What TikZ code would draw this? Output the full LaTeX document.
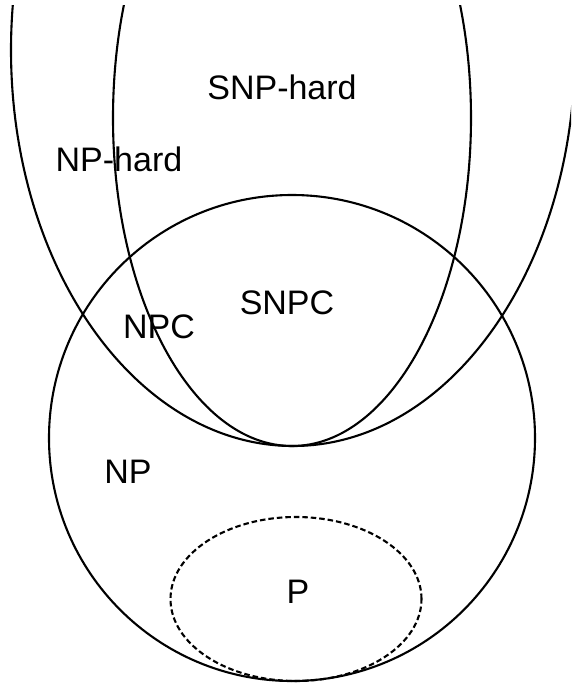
\documentclass[tikz,border=0pt]{standalone}
\usepackage{fontspec}
\setmainfont{Liberation Sans}
\begin{document}
\begin{tikzpicture}[x=1pt,y=-1pt,
  setline/.style={line width=2.1pt},
  pline/.style={line width=2.1pt,dash pattern=on 5.5pt off 3pt},
  lbl/.style={font=\fontsize{34}{34}\selectfont,inner sep=0pt,text height=24.5pt,text depth=0pt}]
\useasboundingbox[fill=white] (0,0) rectangle (571,686);
\begin{scope}
\clip (0,5) rectangle (571,686);
\draw[setline] (293,50) ellipse [x radius=282pt, y radius=396pt];
\draw[setline] (292,118) ellipse [x radius=179pt, y radius=328pt];
\draw[setline] (292,438) circle [radius=243pt];
\draw[pline] (296,599) ellipse [x radius=125.5pt, y radius=82pt];
\end{scope}
\node[lbl] (snphard) at (282,87) {SNP-hard};
\node[lbl] (nphard) at (119,159) {NP-hard};
\node[lbl] (snpc) at (287,302) {SNPC};
\node[lbl] (npc) at (159,326) {NPC};
\node[lbl] (np) at (128,471) {NP};
\node[lbl] (p) at (298,591) {P};
\end{tikzpicture}
\end{document}
